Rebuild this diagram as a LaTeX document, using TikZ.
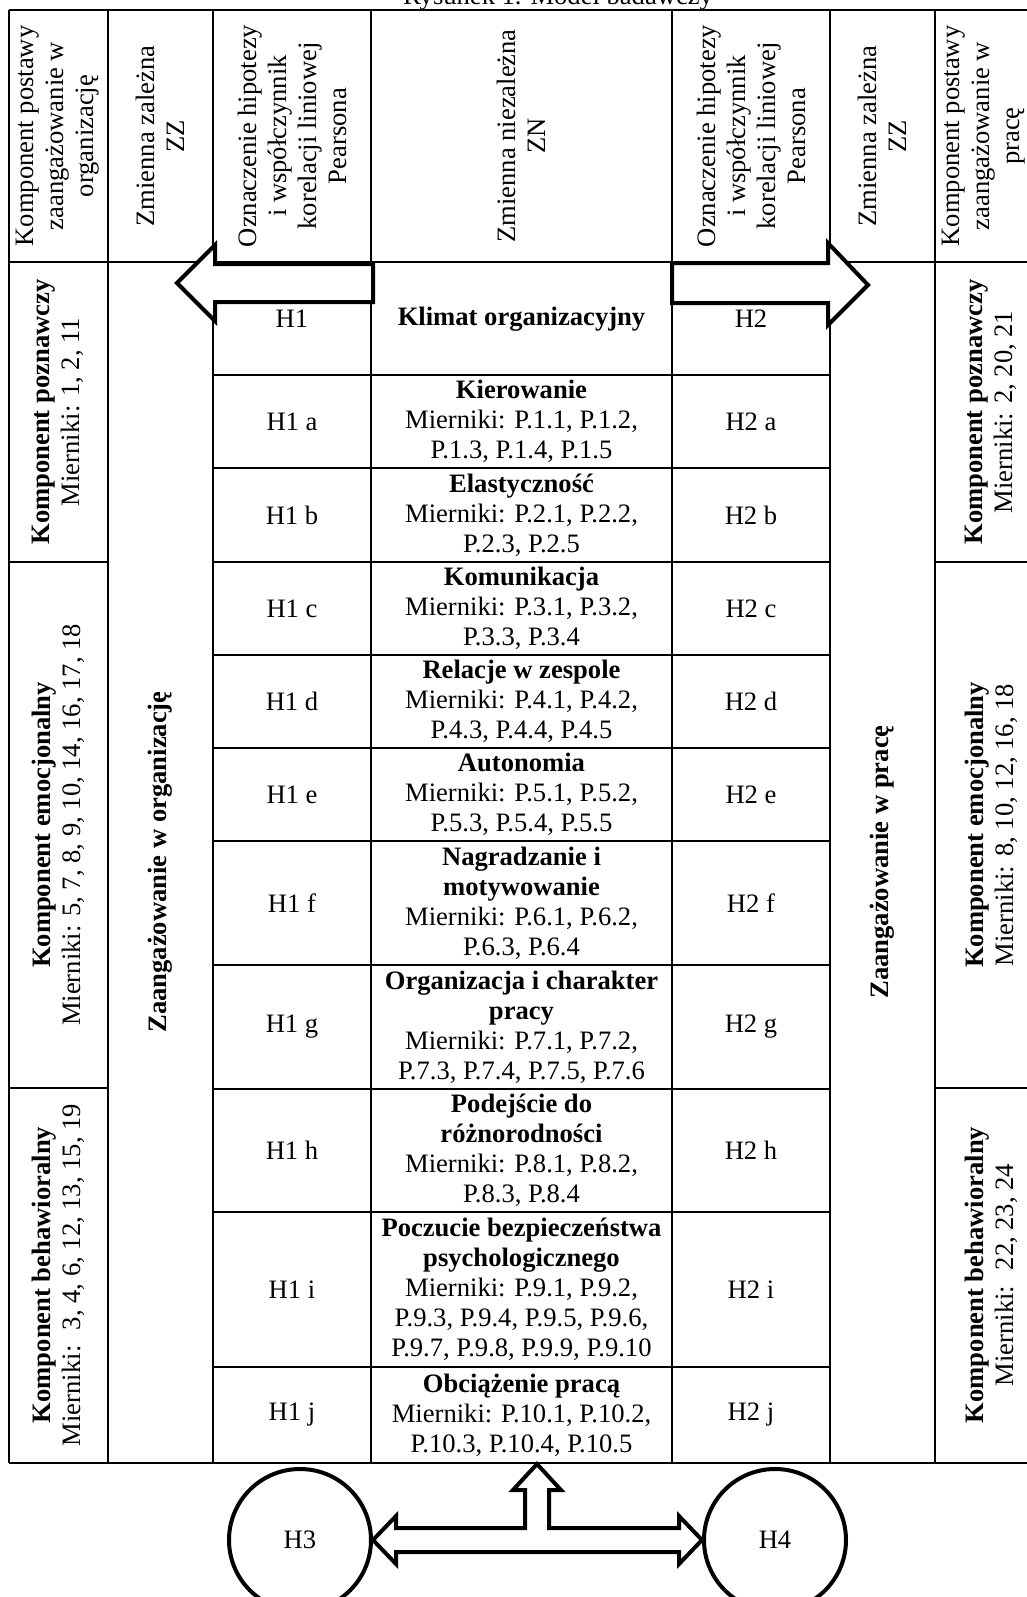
\documentclass[tikz,border=0pt]{standalone}
\usepackage{fontspec}
\setmainfont{Liberation Serif}
\usetikzlibrary{calc}

\tikzset{every picture/.style={line width=0.6pt}}
\tikzset{txt/.style={inner sep=0.75pt, align=center, font=\fontsize{13.3}{15}\selectfont}}
\tikzset{blockarrow/.style={line width=2pt, fill=white, line join=miter}}

\begin{document}
\begin{tikzpicture}[x=0.5pt,y=0.5pt,yscale=-1,xscale=1]
\useasboundingbox (0,0) rectangle (1027,1597);
\clip (0,0) rectangle (1027,1597);

%Straight Lines (outer frame and header)
\draw    (9,10) -- (1045,10) ;
\draw    (9,262) -- (1045,262) ;
\draw    (9,1463) -- (1045,1463) ;
%Straight Lines (columns)
\draw    (9,10) -- (9,1463) ;
\draw    (108,10) -- (108,1463) ;
\draw    (213,10) -- (213,1463) ;
\draw    (371,10) -- (371,1463) ;
\draw    (672,10) -- (672,1463) ;
\draw    (830,10) -- (830,1463) ;
\draw    (935,10) -- (935,1463) ;
%Straight Lines (rows of the middle part)
\draw    (213,375) -- (830,375) ;
\draw    (213,468) -- (830,468) ;
\draw    (213,562) -- (830,562) ;
\draw    (213,655) -- (830,655) ;
\draw    (213,748) -- (830,748) ;
\draw    (213,841) -- (830,841) ;
\draw    (213,965) -- (830,965) ;
\draw    (213,1089) -- (830,1089) ;
\draw    (213,1212) -- (830,1212) ;
\draw    (213,1367) -- (830,1367) ;
%Straight Lines (components)
\draw    (9,562) -- (108,562) ;
\draw    (9,1088) -- (108,1088) ;
\draw    (935,562) -- (1045,562) ;
\draw    (935,1088) -- (1045,1088) ;

% Text Node
\draw (558,4) node [anchor=base][txt] (title) {Rysunek 1. Model badawczy};

% Text Node
\draw (58,136) node [txt][rotate=90] (kpo) {Komponent postawy\\zaangażowanie w\\organizację};
% Text Node
\draw (160,136) node [txt][rotate=90] (zzl) {Zmienna zależna\\ZZ};
% Text Node
\draw (292,136) node [txt][rotate=90] (ozl) {Oznaczenie hipotezy\\i współczynnik\\korelacji liniowej\\Pearsona};
% Text Node
\draw (521,136) node [txt][rotate=90] (zn) {Zmienna niezależna\\ZN};
% Text Node
\draw (751,136) node [txt][rotate=90] (ozr) {Oznaczenie hipotezy\\i współczynnik\\korelacji liniowej\\Pearsona};
% Text Node
\draw (882,136) node [txt][rotate=90] (zzr) {Zmienna zależna\\ZZ};
% Text Node
\draw (984,136) node [txt][rotate=90] (kpp) {Komponent postawy\\zaangażowanie w\\pracę};

% Text Node
\draw (58,412) node [txt][rotate=90] (lpoz) {\textbf{Komponent poznawczy}\\Mierniki: 1, 2, 11};
% Text Node
\draw (58,825) node [txt][rotate=90] (lemo) {\textbf{Komponent emocjonalny}\\Mierniki: 5, 7, 8, 9, 10, 14, 16, 17, 18};
% Text Node
\draw (58,1275) node [txt][rotate=90] (lbeh) {\textbf{Komponent behawioralny}\\Mierniki:~ 3, 4, 6, 12, 13, 15, 19};
% Text Node
\draw (160,862) node [txt][rotate=90] (zorg) {\textbf{Zaangażowanie w organizację}};
% Text Node
\draw (882,862) node [txt][rotate=90] (zpr) {\textbf{Zaangażowanie w pracę}};
% Text Node
\draw (991,412) node [txt][rotate=90] (rpoz) {\textbf{Komponent poznawczy}\\Mierniki: 2, 20, 21};
% Text Node
\draw (991,825) node [txt][rotate=90] (remo) {\textbf{Komponent emocjonalny}\\Mierniki: 8, 10, 12, 16, 18};
% Text Node
\draw (991,1275) node [txt][rotate=90] (rbeh) {\textbf{Komponent behawioralny}\\Mierniki:~ 22, 23, 24};

% Text Node
\draw (292,319) node [txt] (h1) {H1};
\draw (521.5,319) node [txt] (klimat) {\textbf{Klimat organizacyjny}};
\draw (751,319) node [txt] (h2) {H2};
% Text Node
\draw (292,421.5) node [txt] (h1a) {H1 a};
\draw (521.5,421.5) node [txt] (kier) {\textbf{Kierowanie}\\Mierniki: P.1.1, P.1.2,\\P.1.3, P.1.4, P.1.5};
\draw (751,421.5) node [txt] (h2a) {H2 a};
% Text Node
\draw (292,515) node [txt] (h1b) {H1 b};
\draw (521.5,515) node [txt] (elas) {\textbf{Elastyczność}\\Mierniki: P.2.1, P.2.2,\\P.2.3, P.2.5};
\draw (751,515) node [txt] (h2b) {H2 b};
% Text Node
\draw (292,608.5) node [txt] (h1c) {H1 c};
\draw (521.5,608.5) node [txt] (kom) {\textbf{Komunikacja}\\Mierniki: P.3.1, P.3.2,\\P.3.3, P.3.4};
\draw (751,608.5) node [txt] (h2c) {H2 c};
% Text Node
\draw (292,701.5) node [txt] (h1d) {H1 d};
\draw (521.5,701.5) node [txt] (rel) {\textbf{Relacje w zespole}\\Mierniki: P.4.1, P.4.2,\\P.4.3, P.4.4, P.4.5};
\draw (751,701.5) node [txt] (h2d) {H2 d};
% Text Node
\draw (292,794.5) node [txt] (h1e) {H1 e};
\draw (521.5,794.5) node [txt] (aut) {\textbf{Autonomia}\\Mierniki: P.5.1, P.5.2,\\P.5.3, P.5.4, P.5.5};
\draw (751,794.5) node [txt] (h2e) {H2 e};
% Text Node
\draw (292,903) node [txt] (h1f) {H1 f};
\draw (521.5,903) node [txt] (nagr) {\textbf{Nagradzanie i}\\\textbf{motywowanie}\\Mierniki: P.6.1, P.6.2,\\P.6.3, P.6.4};
\draw (751,903) node [txt] (h2f) {H2 f};
% Text Node
\draw (292,1027) node [txt] (h1g) {H1 g};
\draw (521.5,1027) node [txt] (org) {\textbf{Organizacja i charakter}\\\textbf{pracy}\\Mierniki: P.7.1, P.7.2,\\P.7.3, P.7.4, P.7.5, P.7.6};
\draw (751,1027) node [txt] (h2g) {H2 g};
% Text Node
\draw (292,1150.5) node [txt] (h1h) {H1 h};
\draw (521.5,1150.5) node [txt] (pod) {\textbf{Podejście do}\\\textbf{różnorodności}\\Mierniki: P.8.1, P.8.2,\\P.8.3, P.8.4};
\draw (751,1150.5) node [txt] (h2h) {H2 h};
% Text Node
\draw (292,1289.5) node [txt] (h1i) {H1 i};
\draw (521.5,1289.5) node [txt] (pocz) {\textbf{Poczucie bezpieczeństwa}\\\textbf{psychologicznego}\\Mierniki: P.9.1, P.9.2,\\P.9.3, P.9.4, P.9.5, P.9.6,\\P.9.7, P.9.8, P.9.9, P.9.10};
\draw (751,1289.5) node [txt] (h2i) {H2 i};
% Text Node
\draw (292,1415) node [txt] (h1j) {H1 j};
\draw (521.5,1415) node [txt] (obc) {\textbf{Obciążenie pracą}\\Mierniki: P.10.1, P.10.2,\\P.10.3, P.10.4, P.10.5};
\draw (751,1415) node [txt] (h2j) {H2 j};

%Shape: Left Arrow
\draw [blockarrow] (373,264) -- (373,302) -- (215,302) -- (215,321) -- (177,283) -- (215,245) -- (215,264) -- cycle ;
%Shape: Right Arrow
\draw [blockarrow] (672,263) -- (828,263) -- (828,243) -- (868,285) -- (828,325) -- (828,303) -- (672,303) -- cycle ;

%Shape: Circle
\draw (300,1540) node [txt][circle, draw, line width=2pt, minimum size=71pt, inner sep=0pt] (h3) {H3};
%Shape: Circle
\draw (775,1540) node [txt][circle, draw, line width=2pt, minimum size=71pt, inner sep=0pt] (h4) {H4};

%Shape: Up-Left-Right Arrow
\draw [blockarrow] (h3.east) -- ++(23,-24) -- ++(0,12) -- (525,1528) -- (525,1490) -- (513,1490) -- (537,1464) -- (561,1490) -- (549,1490) -- (549,1528) -- ($(h4.west)+(-23,-12)$) -- ++(0,-12) -- (h4.west) -- ++(-23,24) -- ++(0,-12) -- ($(h3.east)+(23,12)$) -- ++(0,12) -- cycle ;

\end{tikzpicture}
\end{document}
